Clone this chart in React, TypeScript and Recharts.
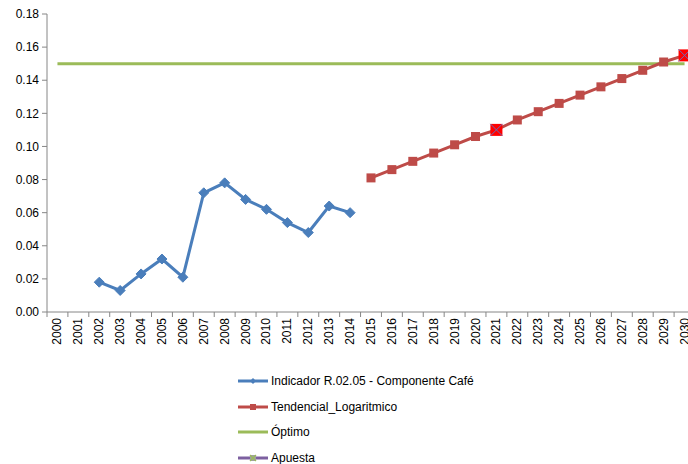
import { LineChart, Line, XAxis, YAxis } from 'recharts';

const years = Array.from({ length: 31 }, (_, i) => String(2000 + i));

// Indicador R.02.05 - Componente Café (2002-2014)
const indicador: (number | null)[] = [
  null, null, 0.018, 0.013, 0.023, 0.032, 0.021, 0.072, 0.078, 0.068, 0.062, 0.054, 0.048, 0.064, 0.060,
  null, null, null, null, null, null, null, null, null, null, null, null, null, null, null, null,
];

// Tendencial_Logaritmico (2015-2030)
const tendencial: (number | null)[] = [
  null, null, null, null, null, null, null, null, null, null, null, null, null, null, null,
  0.081, 0.086, 0.091, 0.096, 0.101, 0.106, 0.110, 0.116, 0.121, 0.126, 0.131, 0.136, 0.141, 0.146, 0.151, 0.155,
];

const optimo: number[] = years.map(() => 0.15);

// Apuesta: 2021 y 2030
const apuesta: (number | null)[] = years.map((y) => (y === '2021' ? 0.110 : y === '2030' ? 0.155 : null));

const yTicks = [0, 0.02, 0.04, 0.06, 0.08, 0.1, 0.12, 0.14, 0.16, 0.18];

const data = years.map((year, i) => ({
  year,
  indicador: indicador[i],
  tendencial: tendencial[i],
  optimo: optimo[i],
  apuesta: apuesta[i],
}));

const BLUE = '#4A7EBB';
const RED = '#BE4B48';
const GREEN = '#9BBB59';
const PURPLE = '#7D60A0';
const AXIS = '#868686';
const FONT = '"Liberation Sans", Arial, sans-serif';

const CHART_W = 700;
const LEFT = 47;
const RIGHT_MARGIN = 5;
const BAND = (CHART_W - LEFT - RIGHT_MARGIN) / years.length;

const Diamond = (props: any) => {
  const { cx, cy, value } = props;
  if (value == null || cx == null) return null;
  const r = 5;
  return <polygon points={`${cx},${cy - r} ${cx + r},${cy} ${cx},${cy + r} ${cx - r},${cy}`} fill={BLUE} stroke={BLUE} />;
};

const Square = (props: any) => {
  const { cx, cy, value } = props;
  if (value == null || cx == null) return null;
  return <rect x={cx - 4.5} y={cy - 4.5} width={9} height={9} fill={RED} stroke="none" />;
};

const CrossSquare = (props: any) => {
  const { cx, cy, value } = props;
  if (value == null || cx == null) return null;
  const r = 6;
  return (
    <g>
      <rect x={cx - r} y={cy - r} width={2 * r} height={2 * r} fill="#FF0000" />
      <line x1={cx - r} y1={cy - r} x2={cx + r} y2={cy + r} stroke="#6A6AB8" strokeWidth={1} />
      <line x1={cx - r} y1={cy + r} x2={cx + r} y2={cy - r} stroke="#6A6AB8" strokeWidth={1} />
    </g>
  );
};

const YearTick = (props: any) => {
  const { x, y, payload } = props;
  const bx = x - BAND / 2;
  return (
    <g>
      <line x1={bx} y1={y} x2={bx} y2={y + 5} stroke={AXIS} />
      <text
        x={x}
        y={y + 6}
        transform={`rotate(-90, ${x}, ${y + 6})`}
        textAnchor="end"
        dominantBaseline="central"
        fontSize={12}
        fontFamily={FONT}
        fill="#000"
      >
        {payload.value}
      </text>
    </g>
  );
};

const legendItems = [
  { name: 'Indicador R.02.05 - Componente Café', color: BLUE, marker: 'diamond' },
  { name: 'Tendencial_Logaritmico', color: RED, marker: 'square' },
  { name: 'Óptimo', color: GREEN, marker: 'none' },
  { name: 'Apuesta', color: PURPLE, marker: 'cross' },
];

const LegendIcon = ({ color, marker }: { color: string; marker: string }) => (
  <svg width={30} height={10} style={{ display: 'block' }}>
    <line x1={0} y1={5} x2={30} y2={5} stroke={color} strokeWidth={3} />
    {marker === 'diamond' && <polygon points="15,2 18,5 15,8 12,5" fill={color} />}
    {marker === 'square' && <rect x={12} y={2} width={6} height={6} fill={color} />}
    {marker === 'cross' && (
      <g>
        <rect x={12} y={2} width={6} height={6} fill="#A0A0A0" />
        <line x1={12} y1={2} x2={18} y2={8} stroke={GREEN} strokeWidth={1.2} />
        <line x1={12} y1={8} x2={18} y2={2} stroke={GREEN} strokeWidth={1.2} />
      </g>
    )}
  </svg>
);

export default function App() {
  return (
    <div style={{ position: 'absolute', left: 0, top: 0, width: 688, height: 464, overflow: 'hidden', background: '#fff' }}>
      <LineChart width={CHART_W} height={357} data={data} margin={{ top: 14, right: RIGHT_MARGIN, left: 0, bottom: 0 }}>
        <XAxis
          dataKey="year"
          scale="band"
          interval={0}
          height={45}
          tickLine={false}
          tickSize={0}
          tickMargin={0}
          stroke={AXIS}
          tick={<YearTick />}
        />
        <YAxis
          width={LEFT}
          domain={[0, 0.18]}
          ticks={yTicks}
          tickFormatter={(v: number) => v.toFixed(2)}
          tickSize={5}
          tickMargin={3}
          stroke={AXIS}
          tick={{ fill: '#000', fontSize: 12, fontFamily: FONT }}
        />
        <Line dataKey="optimo" stroke={GREEN} strokeWidth={3} dot={false} isAnimationActive={false} />
        <Line dataKey="indicador" stroke={BLUE} strokeWidth={3} dot={<Diamond />} isAnimationActive={false} />
        <Line dataKey="tendencial" stroke={RED} strokeWidth={3} dot={<Square />} isAnimationActive={false} />
        <Line dataKey="apuesta" stroke={PURPLE} strokeWidth={3} dot={<CrossSquare />} isAnimationActive={false} />
      </LineChart>
      {legendItems.map((item, i) => (
        <div
          key={item.name}
          style={{
            position: 'absolute',
            left: 238,
            top: 381 + i * 25.7 - 8,
            height: 16,
            display: 'flex',
            alignItems: 'center',
            fontFamily: FONT,
            fontSize: 12,
            color: '#000',
            whiteSpace: 'nowrap',
          }}
        >
          <LegendIcon color={item.color} marker={item.marker} />
          <span style={{ marginLeft: 3 }}>{item.name}</span>
        </div>
      ))}
    </div>
  );
}
